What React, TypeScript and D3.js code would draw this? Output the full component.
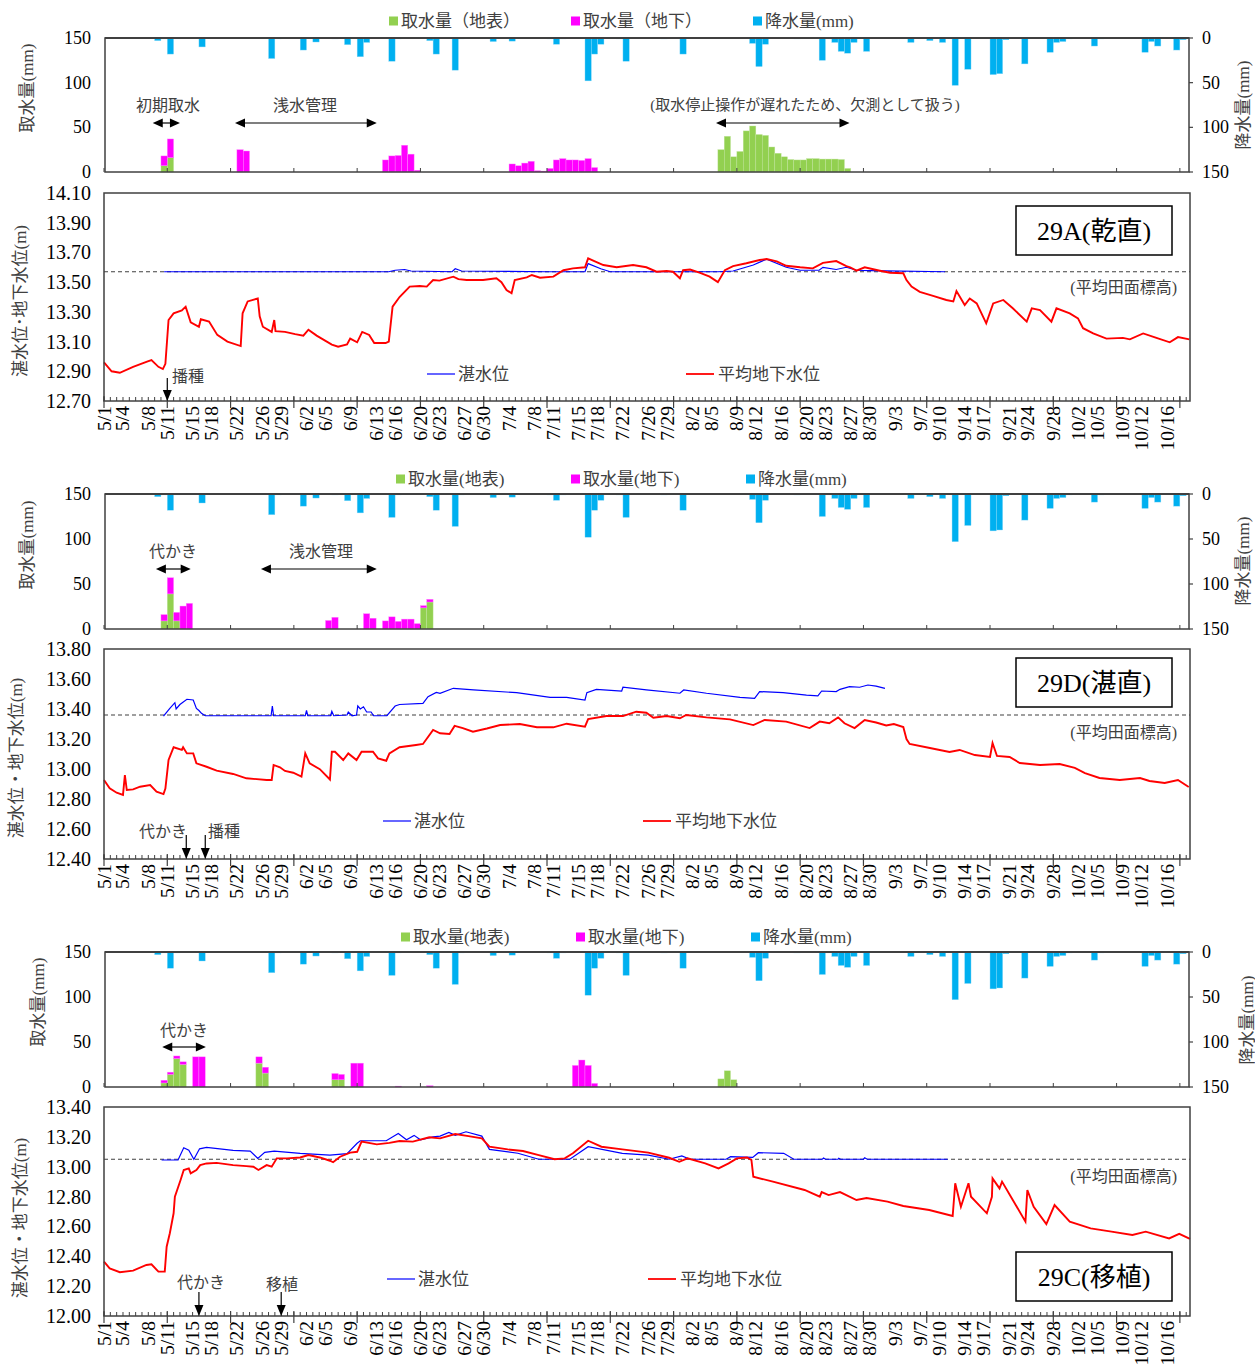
import React from "react";
import * as d3 from "d3";

// All day values are "days since 5/1" (5/1 = 0).
const xTickLabels = ["5/1","5/4","5/8","5/11","5/15","5/18","5/22","5/26","5/29","6/2","6/5","6/9","6/13","6/16","6/20","6/23","6/27","6/30","7/4","7/8","7/11","7/15","7/18","7/22","7/26","7/29","8/2","8/5","8/9","8/12","8/16","8/20","8/23","8/27","8/30","9/3","9/7","9/10","9/14","9/17","9/21","9/24","9/28","10/2","10/5","10/9","10/12","10/16"];

const precipitation: [number, number][] = [[5,0.5],[8,3],[9,1],[10,18],[11,1],[12,0.5],[14,0.5],[15,10],[18,0.5],[21,0.5],[26,23],[27,1],[31,13.5],[33,4.5],[36,1],[38,7.5],[40,21],[41,5],[45,26],[46,1],[51,3],[52,18],[55,36],[56,1],[61,4],[64,3.5],[70,1],[71,7],[72,1],[76,48],[77,18],[78,7],[81,1],[82,26],[88,1],[91,18],[96,0.5],[100,0.5],[102,6],[103,32],[104,7],[109,1],[113,25],[114,1],[115,5],[116,15],[117,17],[118,5],[120,15],[127,5],[130,3],[132,5],[134,53],[136,35],[137,0.5],[140,41],[141,40],[142,2],[145,29],[149,16],[150,5],[151,4],[152,1],[156,9],[157,1],[164,16],[165,4],[166,9],[169,13.5],[170,2]];

// 29A
const surfaceA: [number, number][] = [[9,7],[10,16],[97,25],[98,40],[99,17],[100,23],[101,46],[102,51.5],[103,42],[104,41],[105,28],[106,21],[107,17],[108,14],[109,13.5],[110,13.5],[111,15],[112,15],[113,14.5],[114,14.5],[115,14.5],[116,14],[117,4]];
const groundA: [number, number][] = [[9,11],[10,21],[21,25],[22,23.5],[44,13.5],[45,18],[46,18.5],[47,30],[48,20],[49,2],[64,9],[65,7],[66,10],[67,12],[68,1.5],[69,1],[70,4],[71,13.5],[72,15],[73,13.5],[74,13.5],[75,13],[76,15],[77,5]];
const gwA: [number, number][] = [[0,12.96],[1.2,12.9],[2.5,12.89],[4.6,12.93],[6.8,12.965],[7.5,12.975],[8.6,12.93],[9.3,12.915],[9.7,12.95],[10.2,13.245],[11,13.29],[12.3,13.31],[12.9,13.335],[13.7,13.23],[15,13.2],[15.3,13.25],[16.6,13.235],[17.9,13.145],[19.5,13.1],[21.6,13.07],[21.9,13.29],[22.7,13.37],[24.3,13.39],[24.6,13.27],[25.1,13.2],[26.5,13.165],[26.9,13.245],[27.1,13.17],[28.6,13.165],[30.2,13.15],[31.5,13.14],[32.3,13.18],[33.6,13.14],[36,13.08],[37,13.065],[38.4,13.08],[38.9,13.12],[40,13.095],[40.8,13.165],[41.9,13.145],[42.7,13.09],[44.5,13.09],[45,13.1],[45.6,13.335],[46.7,13.4],[48.3,13.47],[49.9,13.474],[51,13.47],[52,13.514],[53,13.51],[55.2,13.537],[56,13.52],[57.3,13.514],[59.9,13.514],[62,13.526],[62.8,13.5],[63.6,13.447],[64.4,13.425],[64.9,13.514],[66.8,13.532],[67.6,13.548],[68.9,13.53],[71,13.537],[72.6,13.58],[74.1,13.593],[76,13.6],[76.5,13.66],[77.3,13.645],[78.9,13.615],[81,13.6],[83.6,13.615],[85.7,13.6],[87.3,13.57],[88.9,13.575],[89.9,13.57],[91,13.526],[91.5,13.58],[92.6,13.585],[94.2,13.563],[95.7,13.537],[97,13.5],[98.1,13.58],[99.4,13.608],[101.5,13.627],[103.6,13.649],[104.7,13.656],[106.3,13.64],[107.8,13.61],[110,13.6],[112,13.593],[113.6,13.63],[115.7,13.642],[117.3,13.608],[117.9,13.6],[118.9,13.577],[120.2,13.6],[122.6,13.577],[124.2,13.563],[126.3,13.56],[126.8,13.514],[127.6,13.47],[128.9,13.435],[131,13.407],[133.1,13.38],[134.2,13.37],[134.7,13.44],[136,13.346],[136.8,13.39],[137.9,13.357],[139.4,13.223],[140.5,13.357],[142.1,13.38],[143.6,13.324],[145.8,13.234],[146.6,13.324],[147.9,13.312],[149.7,13.234],[150.5,13.324],[152.6,13.29],[153.9,13.256],[154.7,13.19],[156.3,13.155],[158.4,13.12],[161,13.125],[162.1,13.115],[164.2,13.155],[166.3,13.125],[168.4,13.095],[169.7,13.13],[171.5,13.115]];
const pondA: [number, number][] = [[9.5,13.57],[45,13.57],[46,13.58],[47.5,13.585],[48.5,13.575],[55,13.57],[55.5,13.59],[56.5,13.575],[70,13.57],[76,13.57],[76.5,13.625],[78.5,13.59],[80,13.57],[97,13.57],[99.4,13.575],[102.6,13.615],[104.7,13.655],[107.8,13.6],[110,13.58],[113,13.58],[113.6,13.6],[115.7,13.585],[117.3,13.6],[118.9,13.58],[121,13.577],[132.9,13.57]];

// 29D
const surfaceD: [number, number][] = [[9,9],[10,39],[11,9],[50,23.5],[51,30]];
const groundD: [number, number][] = [[9,7],[10,18],[11,9.5],[12,25.5],[13,28.5],[35,9.5],[36,13],[41,17],[42,12],[44,9],[45,13.5],[46,8.5],[47,11],[48,11],[49,6],[50,2.5],[51,3]];
const gwD: [number, number][] = [[0,12.927],[0.9,12.871],[2,12.842],[3,12.827],[3.3,12.96],[3.6,12.86],[4.6,12.864],[5.7,12.882],[7.3,12.893],[8.3,12.849],[9.4,12.833],[9.7,12.87],[10.2,13.06],[11,13.145],[12.3,13.127],[12.5,13.145],[13.1,13.104],[14.1,13.104],[14.6,13.038],[16.2,13.015],[17.8,12.989],[20.4,12.967],[22.5,12.938],[25.7,12.927],[26.5,12.927],[26.8,13.027],[27.8,13.011],[28.6,12.987],[29.9,12.975],[31.2,12.949],[31.8,13.104],[32.5,13.038],[34.1,12.999],[35.7,12.93],[36,13.115],[36.5,13.115],[37.8,13.06],[38.6,13.104],[39.9,13.06],[40.7,13.115],[42.5,13.115],[43.3,13.071],[44.6,13.055],[45.1,13.104],[46.7,13.145],[49.3,13.16],[50.4,13.167],[52,13.26],[53.1,13.238],[54.6,13.234],[55.4,13.287],[56.7,13.273],[58.3,13.249],[60.5,13.27],[62.6,13.293],[65.7,13.3],[68.4,13.278],[71,13.278],[73.1,13.302],[76,13.282],[76.5,13.333],[79.4,13.353],[82,13.353],[84.1,13.382],[85.7,13.375],[86.8,13.342],[88.9,13.353],[91,13.338],[92,13.36],[95.2,13.344],[98.9,13.331],[102.6,13.293],[104.4,13.327],[107.8,13.316],[111.5,13.273],[113.1,13.316],[114.6,13.305],[116,13.344],[117,13.305],[118.6,13.273],[120.2,13.327],[122,13.31],[123.6,13.29],[124.8,13.3],[126.3,13.28],[126.8,13.2],[127.3,13.167],[130.5,13.14],[133.6,13.113],[135.2,13.127],[137.6,13.093],[140,13.08],[140.4,13.173],[141.1,13.087],[143.1,13.08],[144.7,13.04],[147.9,13.027],[151,13.033],[153.4,13.007],[155,12.973],[157.3,12.94],[160.5,12.927],[163.7,12.94],[165.2,12.92],[167.6,12.907],[169.7,12.927],[171.4,12.88]];
const pondD: [number, number][] = [[9.4,13.353],[10.4,13.404],[11.2,13.442],[11.4,13.4],[12,13.43],[13.1,13.465],[14.1,13.46],[14.6,13.404],[15,13.39],[15.4,13.371],[16,13.355],[26.4,13.355],[26.6,13.42],[26.8,13.355],[31.8,13.355],[32,13.39],[32.2,13.355],[35.8,13.355],[36,13.385],[36.3,13.355],[38.4,13.36],[38.6,13.38],[39.2,13.355],[39.9,13.36],[40.1,13.42],[40.5,13.4],[41,13.415],[41.5,13.38],[42.2,13.38],[42.6,13.355],[44.7,13.355],[46,13.42],[46.7,13.43],[50.4,13.438],[51.2,13.482],[52.5,13.511],[53.1,13.505],[55.2,13.538],[58.4,13.527],[65.2,13.509],[70.5,13.478],[73.1,13.478],[76,13.46],[76.3,13.509],[77.8,13.531],[81.8,13.52],[82,13.545],[85.7,13.527],[91,13.505],[91.6,13.527],[95.2,13.505],[100.5,13.478],[102.8,13.471],[103.6,13.516],[107.3,13.509],[111,13.493],[112.8,13.487],[113.4,13.52],[115.7,13.516],[116.3,13.531],[117.8,13.549],[119.4,13.545],[120.7,13.56],[122,13.553],[123.4,13.538]];

// 29C
const surfaceC: [number, number][] = [[9,4.5],[10,14],[11,31.5],[12,25],[24,26.5],[25,15.5],[36,8],[37,8],[97,9],[98,18],[99,8]];
const groundC: [number, number][] = [[9,3],[10,2.5],[11,3],[12,3],[14,33.5],[15,33.5],[24,7],[25,6.5],[36,7],[37,6],[39,26.5],[40,26.5],[46,1],[51,1.5],[74,24],[75,30],[76,24],[77,4]];
const gwC: [number, number][] = [[0,12.364],[0.9,12.319],[2.5,12.293],[4.6,12.304],[6.7,12.342],[7.5,12.346],[8.6,12.297],[9.6,12.297],[9.9,12.464],[10.4,12.554],[11,12.688],[11.2,12.799],[12.1,12.911],[12.6,12.978],[13.4,12.989],[13.7,12.955],[14.6,12.978],[15.2,13.011],[16.2,13.022],[17.8,13.026],[20.4,13.011],[22.5,13.004],[23.6,13],[24.4,12.978],[25.7,13.011],[26.5,13],[27.3,13.056],[28.9,13.056],[31,13.062],[32.3,13.078],[34.1,13.062],[35.7,13.04],[36.2,13.03],[37.3,13.067],[38.9,13.094],[40,13.1],[40.7,13.168],[43.1,13.15],[45.1,13.16],[46.7,13.172],[48.8,13.168],[51.4,13.197],[53.1,13.19],[55.5,13.219],[57.6,13.205],[59.7,13.19],[60.9,13.134],[63.8,13.116],[66.2,13.105],[68.7,13.078],[71.2,13.05],[72.8,13.056],[74.1,13.09],[76.5,13.174],[78.6,13.134],[81.9,13.116],[86,13.094],[89.3,13.06],[90.9,13.033],[92.2,13.056],[95,13.022],[97.1,12.989],[98.7,13.022],[100,13.056],[101.6,13.062],[102.3,13.045],[102.6,12.933],[105.7,12.9],[110.7,12.844],[113.1,12.799],[113.4,12.83],[114.5,12.81],[116.3,12.83],[118.9,12.777],[120.5,12.79],[123.8,12.766],[126.3,12.737],[130.4,12.71],[134.1,12.67],[134.5,12.889],[135.4,12.732],[136.6,12.889],[137,12.799],[139.5,12.688],[140.3,12.799],[140.4,12.922],[141.5,12.855],[141.9,12.9],[143.6,12.777],[145.6,12.632],[145.9,12.844],[146.9,12.732],[148.9,12.616],[150.2,12.743],[152.6,12.632],[155.9,12.587],[159.2,12.565],[162.5,12.543],[164.6,12.565],[168.3,12.52],[169.9,12.55],[171.6,12.516]];
const pondC: [number, number][] = [[9.1,13.045],[11.7,13.045],[12.6,13.127],[13.4,13.11],[14.2,13.05],[15.1,13.12],[16.2,13.13],[20.4,13.11],[23.1,13.105],[24.3,13.056],[25.4,13.096],[26.9,13.105],[31,13.09],[35.7,13.078],[38.4,13.088],[40,13.157],[40.5,13.174],[44.6,13.174],[46.5,13.223],[47.8,13.18],[49,13.21],[50,13.18],[52,13.2],[53.1,13.205],[54.5,13.23],[55.5,13.21],[57.2,13.234],[59.7,13.205],[60.9,13.116],[65.4,13.09],[68.7,13.05],[73.6,13.05],[76.5,13.134],[81.9,13.09],[86,13.078],[89.3,13.05],[91.3,13.072],[92.6,13.05],[98.3,13.05],[99,13.067],[102.5,13.062],[103.4,13.094],[107.4,13.09],[109,13.05],[113.5,13.05],[113.7,13.058],[114,13.05],[116,13.05],[116.1,13.057],[116.4,13.05],[120,13.05],[120.2,13.06],[120.6,13.05],[133.3,13.05]];

const MONTH_START: Record<number, number> = { 5: 0, 6: 31, 7: 61, 8: 92, 9: 123, 10: 153 };
const dayOf = (md: string) => {
  const [m, d] = md.split("/").map(Number);
  return MONTH_START[m] + d - 1;
};

const X0 = 104, X1 = 1190;
const x = d3.scaleLinear().domain([0, 171.6]).range([X0, X1]);
const FONT = "'Liberation Serif','Noto Sans CJK JP',serif";
const GREEN = "#92D050", MAGENTA = "#FF00FF", RAIN = "#00B0F0", RED = "#FF0000", BLUE = "#0000FF";
const AX = "#404040", TXT = "#404040";

type Cfg = any;

const panels: Cfg[] = [
  {
    bar: [38, 172], line: [193, 401], legendY: 21, yDom: [12.7, 14.1], field: 13.57,
    title: "29A(乾直)", boxY: 206, fieldY: 287,
    gw: gwA, pond: pondA, surf: surfaceA, ground: groundA,
    legend: ["取水量（地表）", "取水量（地下）", "降水量(mm)"], legendX: [389, 571, 753],
    lineLegend: { y: 374, blueX: 427, redX: 686 },
    yTitles: { bar: [27, 88], line: [20, 301], right: [1243, 105] },
    lineTitle: "湛水位･地下水位(m)",
    barNotes: [
      { text: "初期取水", tx: 168, ty: 105, d0: 7.7, d1: 12.0, ay: 123 },
      { text: "浅水管理", tx: 305, ty: 105, d0: 20.7, d1: 43.1, ay: 123 },
      { text: "(取水停止操作が遅れたため、欠測として扱う)", tx: 805, ty: 105, d0: 96.7, d1: 117.8, ay: 123 },
    ],
    lineNotes: [{ text: "播種", tx: 172, ty: 376, day: "5/11", y0: 378 }],
  },
  {
    bar: [494, 629], line: [649, 859], legendY: 479, yDom: [12.4, 13.8], field: 13.36,
    title: "29D(湛直)", boxY: 658, fieldY: 732,
    gw: gwD, pond: pondD, surf: surfaceD, ground: groundD,
    legend: ["取水量(地表)", "取水量(地下)", "降水量(mm)"], legendX: [396, 571, 746],
    lineLegend: { y: 821, blueX: 383, redX: 643 },
    yTitles: { bar: [27, 545], line: [16, 758], right: [1243, 561] },
    lineTitle: "湛水位・地下水位(m)",
    barNotes: [
      { text: "代かき", tx: 173, ty: 551, d0: 8.2, d1: 13.7, ay: 569 },
      { text: "浅水管理", tx: 321, ty: 551, d0: 24.8, d1: 43.1, ay: 569 },
    ],
    lineNotes: [
      { text: "代かき", tx: 139, ty: 831, day: "5/14", y0: 835 },
      { text: "播種", tx: 208, ty: 831, day: "5/17", y0: 835 },
    ],
  },
  {
    bar: [952, 1087], line: [1107, 1316], legendY: 937, yDom: [12.0, 13.4], field: 13.05,
    title: "29C(移植)", boxY: 1252, fieldY: 1176,
    gw: gwC, pond: pondC, surf: surfaceC, ground: groundC,
    legend: ["取水量(地表)", "取水量(地下)", "降水量(mm)"], legendX: [401, 576, 751],
    lineLegend: { y: 1279, blueX: 387, redX: 648 },
    yTitles: { bar: [38, 1002], line: [20, 1218], right: [1247, 1020] },
    lineTitle: "湛水位・地下水位(m)",
    barNotes: [{ text: "代かき", tx: 184, ty: 1030, d0: 9.2, d1: 16.1, ay: 1047 }],
    lineNotes: [
      { text: "代かき", tx: 177, ty: 1282, day: "5/16", y0: 1292 },
      { text: "移植", tx: 266, ty: 1284, day: "5/29", y0: 1292 },
    ],
  },
];

function HArrow({ x1, x2, y }: { x1: number; x2: number; y: number }) {
  return (
    <g>
      <line x1={x1 + 6} x2={x2 - 6} y1={y} y2={y} stroke="#000" strokeWidth={1.2} />
      <path d={`M${x1},${y}L${x1 + 10},${y - 4.5}L${x1 + 10},${y + 4.5}Z`} fill="#000" />
      <path d={`M${x2},${y}L${x2 - 10},${y - 4.5}L${x2 - 10},${y + 4.5}Z`} fill="#000" />
    </g>
  );
}

function VArrow({ x: ax, y1, y2 }: { x: number; y1: number; y2: number }) {
  return (
    <g>
      <line x1={ax} x2={ax} y1={y1} y2={y2 - 8} stroke="#000" strokeWidth={1.2} />
      <path d={`M${ax},${y2}L${ax - 4.5},${y2 - 11}L${ax + 4.5},${y2 - 11}Z`} fill="#000" />
    </g>
  );
}

function Panel({ c }: { c: Cfg }) {
  const [bt, bb] = c.bar;
  const [lt, lb] = c.line;
  const yBar = d3.scaleLinear().domain([0, 150]).range([bb, bt]);
  const yRain = d3.scaleLinear().domain([0, 150]).range([bt, bb]);
  const yLine = d3.scaleLinear().domain(c.yDom).range([lb, lt]);
  const bw = x(1) - x(0);
  const lineGen = d3.line<[number, number]>().x((d) => x(d[0])).y((d) => yLine(d[1]));
  const surfMap = new Map<number, number>(c.surf);
  const yTicks = d3.range(c.yDom[0], c.yDom[1] + 0.001, 0.2);
  const days = d3.range(0, 172);
  const majors = d3.range(0, 172, 10);

  return (
    <g>
      {/* ---------- bar chart ---------- */}
      {precipitation.map(([d, v]) => (
        <rect key={"r" + d} x={x(d)} width={bw} y={bt} height={yRain(v) - bt} fill={RAIN} stroke="#8fd9f7" strokeWidth={0.4} />
      ))}
      {c.surf.map(([d, v]: [number, number]) => (
        <rect key={"s" + d} x={x(d)} width={bw} y={yBar(v)} height={bb - yBar(v)} fill={GREEN} stroke="#c4e6a3" strokeWidth={0.4} />
      ))}
      {c.ground.map(([d, v]: [number, number]) => {
        const base = surfMap.get(d) || 0;
        return <rect key={"g" + d} x={x(d)} width={bw} y={yBar(base + v)} height={yBar(base) - yBar(base + v)} fill={MAGENTA} stroke="#ff8cff" strokeWidth={0.4} />;
      })}
      <rect x={X0 + 1} y={bt} width={X1 - X0 - 2} height={bb - bt} fill="none" stroke={AX} strokeWidth={1.5} />
      <line x1={X0 + 1} x2={X1 - 1} y1={bt} y2={bt} stroke={AX} strokeWidth={2} />
      {majors.map((d) => (
        <line key={"bt" + d} x1={x(d)} x2={x(d)} y1={bb} y2={bb - 4} stroke={AX} strokeWidth={1} />
      ))}
      {[0, 50, 100, 150].map((v) => (
        <g key={"bl" + v}>
          <text x={91} y={yBar(v)} textAnchor="end" dominantBaseline="central" fontSize={18} fontFamily={FONT} fill="#000">{v}</text>
          <line x1={X1 - 1} x2={X1 + 3} y1={yRain(v)} y2={yRain(v)} stroke={AX} strokeWidth={1.2} />
          <text x={1202} y={yRain(v)} textAnchor="start" dominantBaseline="central" fontSize={18} fontFamily={FONT} fill="#000">{v}</text>
        </g>
      ))}
      <text transform={`translate(${c.yTitles.bar[0]},${c.yTitles.bar[1]}) rotate(-90)`} textAnchor="middle" dominantBaseline="central" fontSize={17} fontFamily={FONT} fill={TXT}>取水量(mm)</text>
      <text transform={`translate(${c.yTitles.right[0]},${c.yTitles.right[1]}) rotate(-90)`} textAnchor="middle" dominantBaseline="central" fontSize={17} fontFamily={FONT} fill={TXT}>降水量(mm)</text>
      {/* legend */}
      {[GREEN, MAGENTA, RAIN].map((col, i) => (
        <g key={"lg" + i}>
          <rect x={c.legendX[i]} y={c.legendY - 4.5} width={9} height={9} fill={col} />
          <text x={c.legendX[i] + 12} y={c.legendY} dominantBaseline="central" fontSize={17} fontFamily={FONT} fill={TXT}>{c.legend[i]}</text>
        </g>
      ))}
      {c.barNotes.map((n: any, i: number) => (
        <g key={"bn" + i}>
          <text x={n.tx} y={n.ty} textAnchor="middle" dominantBaseline="central" fontSize={n.text.length > 8 ? 15 : 16} fontFamily={FONT} fill={TXT}>{n.text}</text>
          <HArrow x1={x(n.d0)} x2={x(n.d1)} y={n.ay} />
        </g>
      ))}

      {/* ---------- line chart ---------- */}
      <line x1={X0} x2={X1} y1={yLine(c.field)} y2={yLine(c.field)} stroke="#404040" strokeWidth={1.2} strokeDasharray="4,3" />
      <path d={lineGen(c.pond) || ""} fill="none" stroke={BLUE} strokeWidth={1.2} />
      <path d={lineGen(c.gw) || ""} fill="none" stroke={RED} strokeWidth={1.9} />
      <rect x={X0} y={lt} width={X1 - X0} height={lb - lt} fill="none" stroke={AX} strokeWidth={1.5} />
      {days.map((d) => (
        <line key={"mt" + d} x1={x(d)} x2={x(d)} y1={lb} y2={lb - 4} stroke={AX} strokeWidth={1} />
      ))}
      {majors.map((d) => (
        <line key={"Mt" + d} x1={x(d)} x2={x(d)} y1={lb - 5} y2={lb + 7} stroke={AX} strokeWidth={1.2} />
      ))}
      {yTicks.map((v) => (
        <text key={"yt" + v} x={91} y={yLine(v)} textAnchor="end" dominantBaseline="central" fontSize={20} fontFamily={FONT} fill="#000">{v.toFixed(2)}</text>
      ))}
      {xTickLabels.map((lab) => (
        <text key={"xl" + lab} transform={`translate(${x(dayOf(lab))},${lb + 5}) rotate(-90)`} textAnchor="end" dominantBaseline="central" fontSize={19.5} fontFamily={FONT} fill="#000">{lab}</text>
      ))}
      <text transform={`translate(${c.yTitles.line[0]},${c.yTitles.line[1]}) rotate(-90)`} textAnchor="middle" dominantBaseline="central" fontSize={17} fontFamily={FONT} fill={TXT}>{c.lineTitle}</text>
      {/* line legend */}
      <line x1={c.lineLegend.blueX} x2={c.lineLegend.blueX + 28} y1={c.lineLegend.y} y2={c.lineLegend.y} stroke={BLUE} strokeWidth={1.2} />
      <text x={c.lineLegend.blueX + 31} y={c.lineLegend.y} dominantBaseline="central" fontSize={17} fontFamily={FONT} fill={TXT}>湛水位</text>
      <line x1={c.lineLegend.redX} x2={c.lineLegend.redX + 28} y1={c.lineLegend.y} y2={c.lineLegend.y} stroke={RED} strokeWidth={1.8} />
      <text x={c.lineLegend.redX + 32} y={c.lineLegend.y} dominantBaseline="central" fontSize={17} fontFamily={FONT} fill={TXT}>平均地下水位</text>
      {/* title box */}
      <rect x={1016} y={c.boxY} width={156} height={49} fill="#fff" stroke="#000" strokeWidth={1.5} />
      <text x={1094} y={c.boxY + 25} textAnchor="middle" dominantBaseline="central" fontSize={26} fontFamily={FONT} fill="#000">{c.title}</text>
      <text x={1177} y={c.fieldY} textAnchor="end" dominantBaseline="central" fontSize={16} fontFamily={FONT} fill={TXT}>(平均田面標高)</text>
      {c.lineNotes.map((n: any, i: number) => (
        <g key={"ln" + i}>
          <text x={n.tx} y={n.ty} dominantBaseline="central" fontSize={16} fontFamily={FONT} fill={TXT}>{n.text}</text>
          <VArrow x={x(dayOf(n.day))} y1={n.y0} y2={lb} />
        </g>
      ))}
    </g>
  );
}

export default function App() {
  return (
    <svg width={1255} height={1365} style={{ position: "absolute", left: 0, top: 0, background: "#fff" }}>
      <rect width={1255} height={1365} fill="#fff" />
      {panels.map((c, i) => (
        <Panel key={i} c={c} />
      ))}
    </svg>
  );
}
